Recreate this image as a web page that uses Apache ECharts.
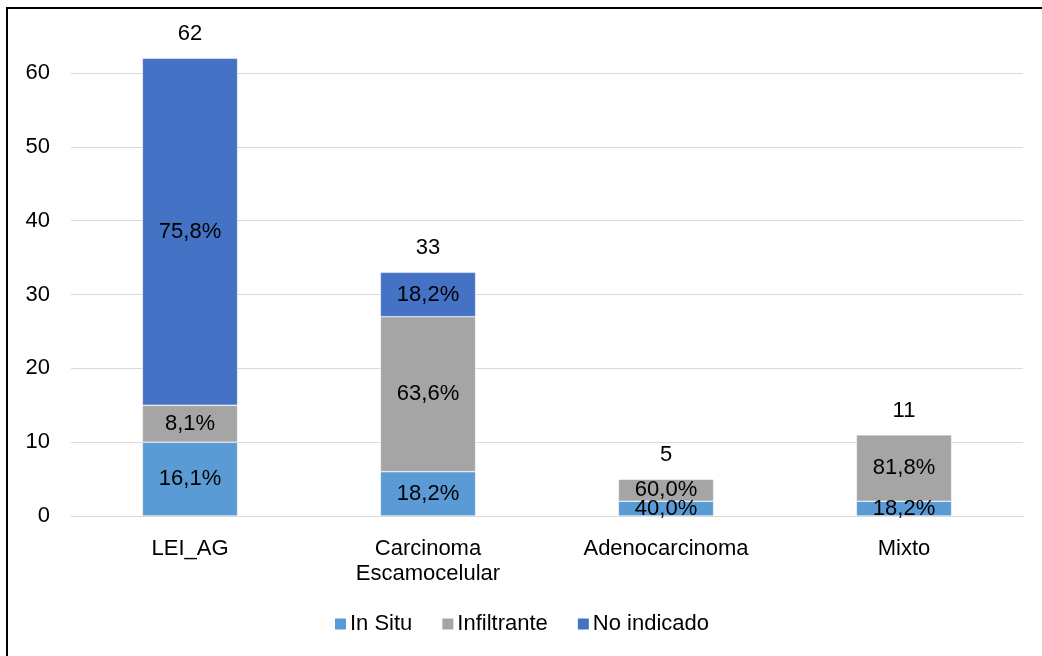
<!DOCTYPE html>
<html lang="es">
<head>
    <meta charset="UTF-8">
    <script src="https://cdn.jsdelivr.net/npm/echarts@6/dist/echarts.min.js"></script>
    <title>Tipos</title>
    <style>
        body { margin: 0; background: #fff; }
        #frame { position: absolute; left: 6px; top: 7px; width: 1036px; height: 649px;
                 border-left: 2px solid #000; border-top: 2px solid #000; }
        #main { position: absolute; left: 0; top: 0; width: 1042px; height: 656px; }
    </style>
</head>
<body>
<div id="frame"></div>
<div id="main"></div>
<script type="text/javascript">
    var categories = ['LEI_AG', 'Carcinoma\nEscamocelular', 'Adenocarcinoma', 'Mixto'];
    var inSitu = [10, 6, 2, 2];
    var infiltrante = [5, 21, 3, 9];
    var noIndicado = [47, 6, 0, 0];
    var yTicks = [0, 10, 20, 30, 40, 50, 60];

    var totals = categories.map(function (c, i) {
        return inSitu[i] + infiltrante[i] + noIndicado[i];
    });

    function pctLabel(p) {
        if (!p.value) return '';
        return (p.value / totals[p.dataIndex] * 100).toFixed(1).replace('.', ',') + '%';
    }

    var labelStyle = {
        show: true, position: 'inside', formatter: pctLabel,
        color: '#000', fontSize: 22, fontFamily: 'Liberation Sans, Arial'
    };

    var myChart = echarts.init(document.getElementById('main'));
    var option = {
        animation: false,
        textStyle: { fontFamily: 'Liberation Sans, Arial' },
        grid: { left: 71, right: 19, top: 73, bottom: 140 },
        legend: {
            data: ['In Situ', 'Infiltrante', 'No indicado'],
            bottom: 16, itemWidth: 13, itemHeight: 13, itemGap: 28,
            icon: 'rect',
            textStyle: { fontSize: 22, color: '#000', padding: [0, 0, 0, -2] }
        },
        xAxis: {
            type: 'category', data: categories,
            axisLine: { lineStyle: { color: '#d9d9d9' } },
            axisTick: { show: false },
            axisLabel: { fontSize: 22, color: '#000', margin: 20, lineHeight: 25 }
        },
        yAxis: {
            type: 'value', min: yTicks[0], max: yTicks[yTicks.length - 1], interval: 10,
            axisLabel: { fontSize: 22, color: '#000', margin: 21 },
            splitLine: { lineStyle: { color: '#d9d9d9' } }
        },
        series: [
            { name: 'In Situ', type: 'bar', stack: 'a', data: inSitu, barWidth: '40%',
              clip: false, itemStyle: { color: '#5b9bd5', borderColor: '#fff', borderWidth: 0.5 },
              label: labelStyle },
            { name: 'Infiltrante', type: 'bar', stack: 'a', data: infiltrante,
              clip: false, itemStyle: { color: '#a5a5a5', borderColor: '#fff', borderWidth: 0.5 },
              label: labelStyle },
            { name: 'No indicado', type: 'bar', stack: 'a', data: noIndicado,
              clip: false, itemStyle: { color: '#4472c4', borderColor: '#fff', borderWidth: 0.5 },
              label: labelStyle },
            { name: 'Total', type: 'bar', data: totals, barGap: '-100%', barWidth: '40%',
              clip: false, silent: true, z: 0,
              itemStyle: { color: 'rgba(0,0,0,0)' },
              label: { show: true, position: 'top', distance: 13, color: '#000', fontSize: 22 } }
        ]
    };
    myChart.setOption(option);
</script>
</body>
</html>
